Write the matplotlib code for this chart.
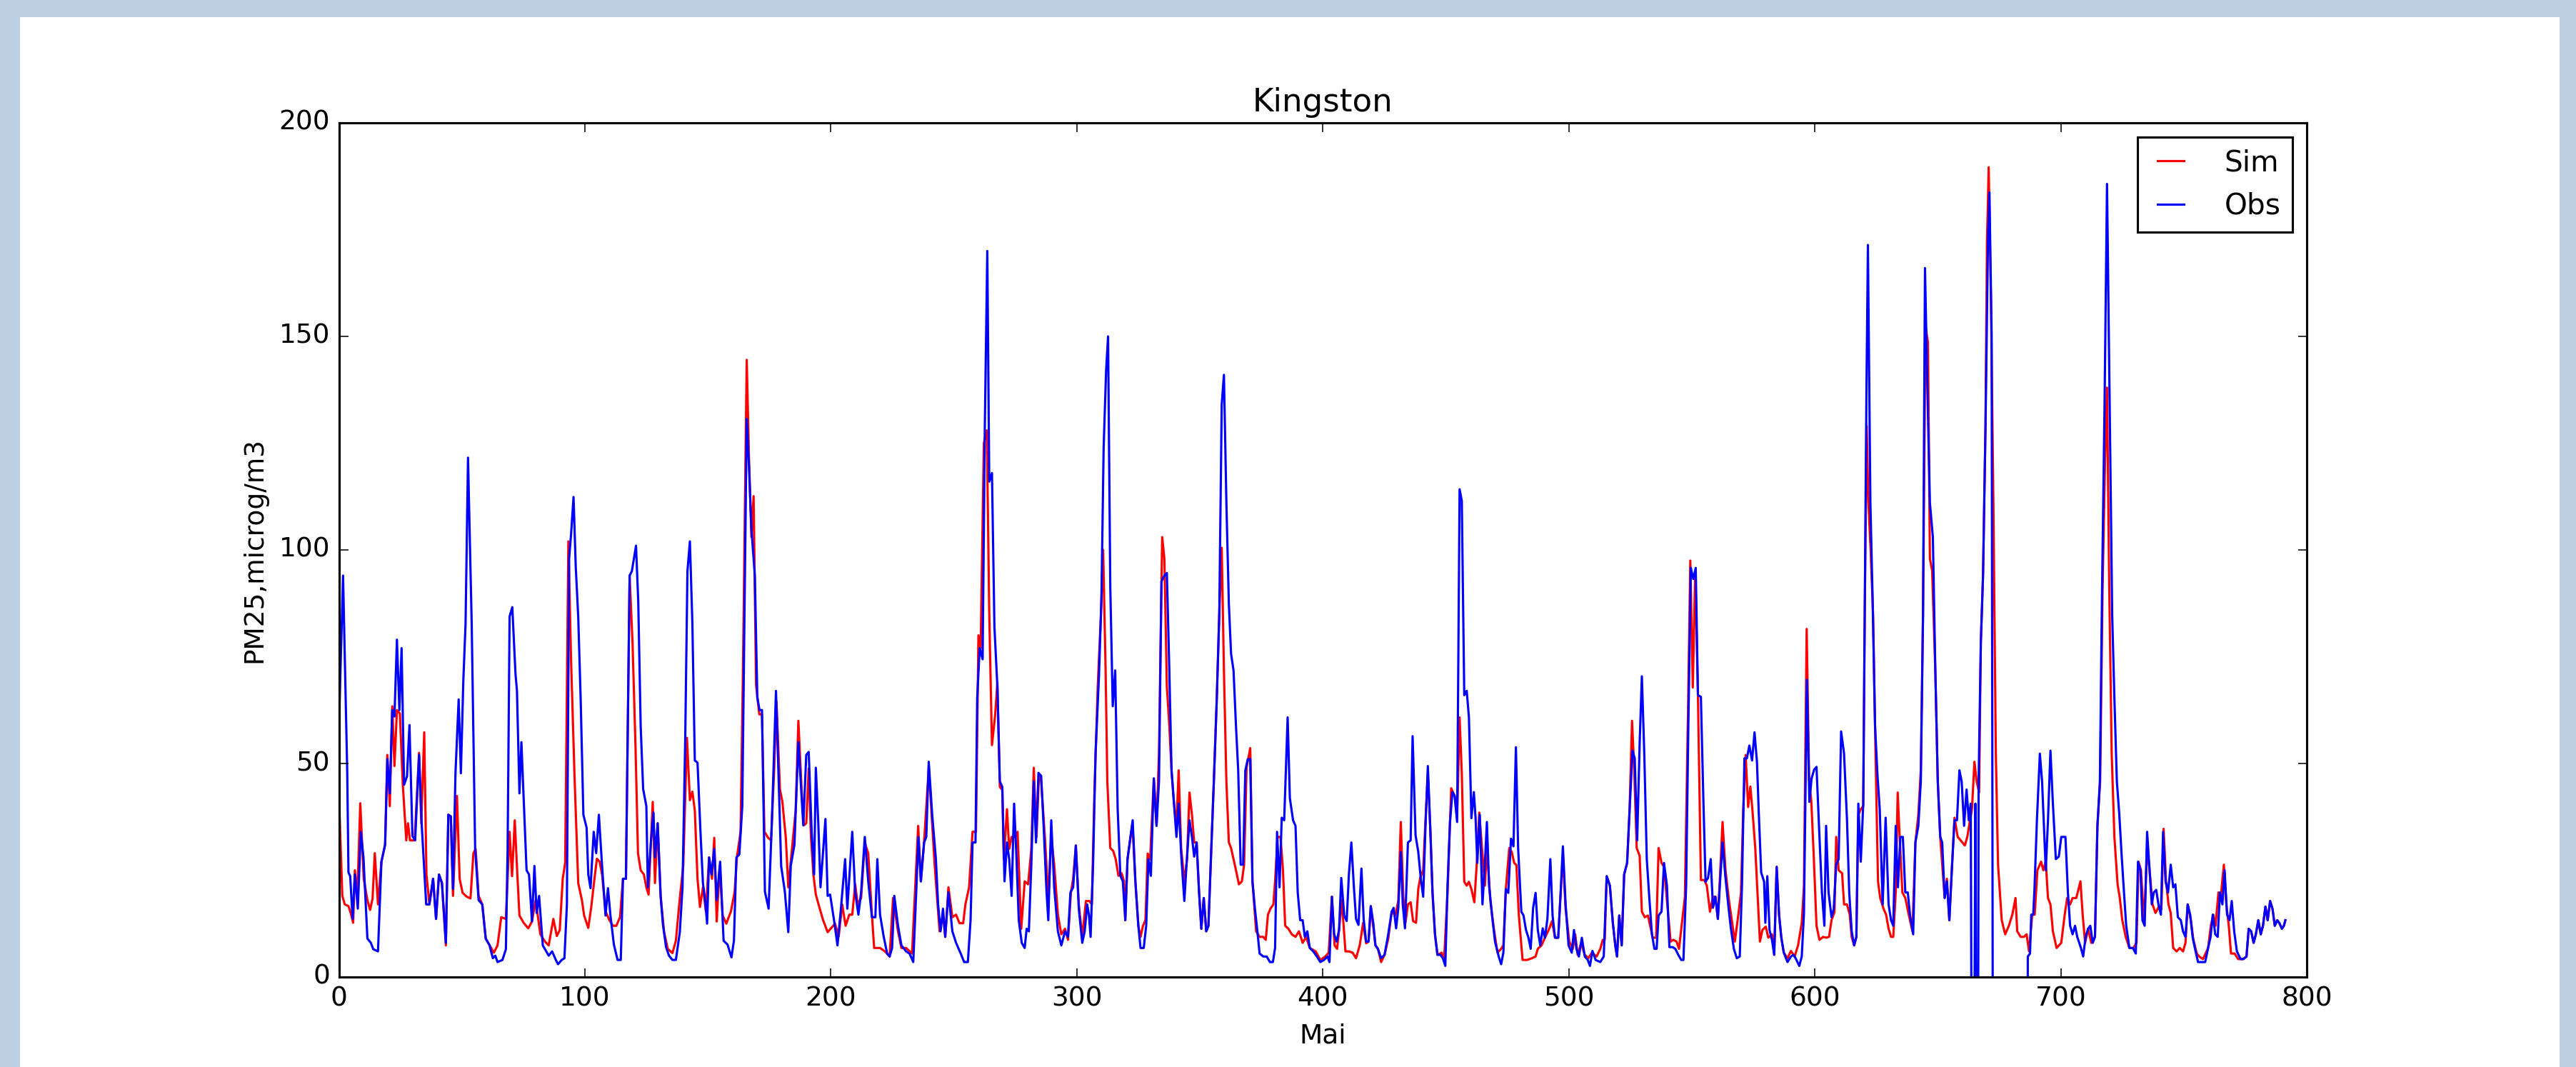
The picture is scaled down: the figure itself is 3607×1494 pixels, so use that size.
import matplotlib
matplotlib.use("Agg")
import matplotlib.pyplot as plt
from matplotlib.patches import Rectangle

# values, (hour index, PM25) ; -99 = missing obs
obs = [
    (0, 58), (1.7, 94), (3.4, 48), (3.9, 24.5), (4.6, 23.6), (5.6, 13.6), (6.5, 24), (7.7, 16), (8.9, 34), (10, 28),
    (11.6, 9), (13, 8), (14, 6.5), (15.9, 6), (17.3, 27), (18.8, 31), (19.7, 51), (20.7, 43), (21.7, 62.5), (22.6, 61),
    (23.6, 79), (24.6, 62.5), (25.5, 77), (26.5, 45), (27.7, 47), (28.7, 59), (29.9, 33), (31, 32), (32.6, 52), (33.7, 35.4),
    (35.5, 17), (36.8, 17), (38.3, 23), (39.5, 13.6), (40.7, 24), (41.9, 22), (43.5, 8), (44.5, 38), (45.5, 37.6), (46.4, 20.6),
    (47.4, 47.7), (48.7, 65), (49.6, 47.7), (50.6, 69.5), (51.5, 82.7), (52.5, 121.6), (54, 82.7), (55.4, 30), (56.8, 18), (58.3, 17),
    (59.7, 9), (61.2, 7.5), (62.6, 4.4), (63.6, 5), (64.5, 3.5), (66.5, 4), (67.9, 6.5), (68.6, 30), (69.4, 84.4), (70.5, 86.6),
    (71.8, 71), (72.4, 67), (73.4, 43), (74.2, 55), (74.9, 45), (76.3, 25), (77.3, 24), (78.5, 13), (79.5, 26), (80.4, 15),
    (81.4, 19), (82.9, 7.4), (84.3, 6), (85.3, 5), (86.7, 6), (88.2, 4), (89.1, 3), (90.6, 4), (91.7, 4.4), (92.7, 17),
    (93.6, 98), (94.4, 103.7), (95.4, 112.4), (96.3, 96), (97.3, 84.4), (98.3, 65), (99.4, 38), (100.7, 35), (101.4, 24), (102.3, 20.8),
    (103.6, 34), (104.6, 29), (105.7, 38), (107, 26), (108.4, 14.4), (109.4, 20.8), (110.4, 14.4), (111.8, 7.6), (113.3, 4), (114.6, 4),
    (115.5, 23), (116.7, 23), (118.2, 94), (119.1, 95), (120.8, 101), (121.7, 88), (122.7, 58.6), (123.7, 44), (125, 40), (125.6, 21),
    (126.9, 32), (127.9, 38.5), (128.5, 28), (129.6, 36), (130.8, 19), (131.7, 12.5), (133, 7), (134.2, 5), (135.6, 4), (137, 4),
    (138.6, 10.5), (139.7, 21), (140.8, 55.6), (141.7, 95), (142.7, 102), (143.7, 83), (144.7, 50.7), (145.8, 50.2), (147, 34), (148, 22),
    (148.9, 18), (149.7, 12.5), (150.5, 28), (151.5, 24), (152.6, 30), (153.6, 18), (155, 27), (156.4, 8.5), (158, 7.6), (159.6, 4.6),
    (160.6, 8.5), (161.6, 28), (162.8, 28.7), (164, 40), (165, 91), (165.8, 130.7), (166.7, 120), (167.7, 105), (169.1, 94), (170.1, 65.5),
    (171, 62.5), (172, 62.5), (173.2, 20), (174.7, 16), (176, 36), (177.7, 67), (178.9, 44), (179.8, 26), (181.3, 20), (182.7, 10.5),
    (183.7, 26), (185.2, 31), (186.8, 55), (188.8, 35.5), (190, 52), (191, 52.7), (192.2, 34), (193.2, 24), (193.9, 49), (194.9, 36),
    (195.8, 21), (197.8, 37), (198.7, 19), (199.7, 19.3), (201.3, 13.3), (202.7, 7.4), (204.1, 16), (205.8, 27.6), (206.7, 16), (208.7, 34),
    (209.9, 19.8), (211.2, 14.6), (212.3, 19.8), (213.8, 32.8), (215.2, 22.4), (216.7, 14), (218.1, 14), (218.9, 27.6), (220, 14.6), (221.5, 9.4),
    (222.9, 5.5), (223.9, 4.8), (224.9, 6.8), (225.8, 19), (227.3, 12), (228.7, 7.4), (230.6, 6), (232, 5.5), (233.5, 3.5), (234.7, 19.8),
    (235.6, 32.8), (236.6, 22.4), (237.9, 31.5), (238.8, 32.8), (239.8, 50.4), (241.2, 38), (242.7, 27.6), (243.6, 17), (244.6, 10.7), (245.6, 16),
    (246.5, 9.4), (247.8, 19.8), (249.4, 10.7), (250.9, 8), (252.8, 5.5), (254.2, 3.5), (255.7, 3.5), (256.8, 13.3), (257.6, 31.5), (258.8, 31.5),
    (259.5, 65.3), (260.5, 77), (261.7, 74.4), (262.6, 129), (263.6, 170), (264.4, 116), (265.5, 118), (266.5, 82), (267.7, 68), (268.7, 45.8),
    (269.7, 44.5), (270.6, 22.4), (271.6, 31.5), (272.5, 27.6), (273.5, 19), (274.5, 40.6), (275.4, 28.9), (276.4, 13.3), (277.6, 8), (278.8, 6.8),
    (279.6, 11.3), (280.5, 10.7), (281.5, 26.3), (282.5, 45.8), (283.4, 31.5), (284.4, 47.8), (285.5, 47.1), (286.5, 35.4), (287.7, 19.8), (288.4, 13.3),
    (289.6, 36.7), (290.8, 21), (292.3, 10.7), (293.7, 7.4), (295.2, 10.7), (296.4, 9.4), (297.4, 19.8), (298.5, 21), (299.6, 30.8), (300.8, 16),
    (302.2, 8), (303.2, 10.7), (304.2, 17), (304.9, 14.6), (305.6, 9.4), (306.6, 26.3), (307.6, 52.3), (309, 70.5), (310, 88.7), (310.9, 124),
    (311.9, 142), (312.7, 150), (313.6, 91.3), (314.6, 63.4), (315.6, 71.8), (316.6, 39.3), (317.7, 23.7), (318.7, 22.4), (319.7, 13.3), (320.6, 27.6),
    (321.8, 32.8), (322.7, 36.7), (323.8, 22.4), (325, 12), (325.9, 6.8), (327.2, 6.8), (328.2, 12), (329.1, 27.6), (330.1, 23.7), (331.3, 46.5),
    (332.4, 35.4), (333.4, 45.8), (334.4, 92.6), (335.6, 94), (336.6, 94.6), (337.6, 71.8), (338.5, 48.4), (339.5, 40.6), (340.5, 32.8), (341.4, 40.6),
    (342.4, 28.9), (343.7, 17.8), (344.6, 26.3), (345.8, 36.7), (346.8, 32.8), (347.7, 28.2), (348.7, 31.5), (349.7, 19.8), (350.6, 11.3), (351.6, 18.5),
    (352.6, 10.7), (353.5, 12), (354.5, 27.6), (355.7, 45.8), (356.9, 65.3), (357.9, 84.8), (358.9, 134), (359.8, 141), (360.8, 111), (361.8, 87.4),
    (362.7, 75.7), (363.7, 71.8), (364.7, 58.8), (365.6, 48.4), (366.6, 26.3), (367.6, 26.3), (368.5, 48.4), (369.5, 51), (370.5, 51), (371.4, 22.4),
    (372.4, 16), (373.4, 10.7), (374.3, 5.5), (375.8, 4.8), (377.2, 4.8), (378.5, 3.5), (379.7, 3.5), (380.6, 6.8), (381.4, 34), (382.4, 21),
    (383.3, 37.3), (384.3, 36.7), (385.7, 60.8), (386.6, 41.9), (387.9, 36.7), (388.9, 35.4), (389.8, 19.8), (390.8, 13.3), (391.8, 13.3), (392.7, 9.4),
    (393.7, 10.7), (394.7, 6.8), (396.1, 6), (397.6, 4.8), (399, 3.5), (400.5, 4), (401.9, 4.8), (402.7, 3.5), (403.7, 18.8), (404.6, 10),
    (405.6, 8.3), (406.6, 11), (407.5, 23.2), (408.7, 14.4), (409.7, 13.1), (410.6, 24), (411.6, 31.5), (412.6, 21.4), (413.5, 13.6), (414.5, 12.2),
    (415.7, 25.4), (416.6, 13.6), (417.6, 8.3), (418.6, 8.3), (419.5, 16.6), (420.5, 12.7), (421.4, 7.4), (422.4, 6.6), (423.7, 4.4), (425.1, 5.2),
    (426.6, 10), (428, 15.3), (428.8, 16.2), (429.8, 11.4), (430.7, 16.2), (431.7, 29.3), (432.5, 17), (433.4, 11.4), (434.6, 31.5), (435.7, 32),
    (436.5, 56.4), (437.7, 33.2), (438.8, 29.3), (439.8, 23.2), (440.8, 18.8), (441.7, 34.6), (442.7, 49.4), (443.7, 34.6), (444.6, 19.7), (445.6, 10),
    (446.6, 5.2), (447.8, 5.2), (448.8, 4.4), (449.8, 2.6), (450.7, 21.4), (451.7, 36.3), (452.7, 43.3), (453.6, 42.4), (454.6, 36.3), (455.6, 114.2),
    (456.5, 111.5), (457.5, 66), (458.5, 67), (459.4, 60.8), (460.4, 37.2), (461.4, 43.3), (462.1, 37.2), (462.8, 26.7), (463.8, 38), (464.9, 17),
    (465.9, 26.7), (466.7, 36.3), (467.6, 21.4), (468.8, 14.4), (470, 8.3), (471.5, 4.8), (472.5, 3), (473.4, 5.7), (474.4, 20.6), (475.4, 19.7),
    (476.5, 32.4), (477.5, 30.6), (478.5, 53.8), (479.4, 30.2), (480.7, 15.3), (481.6, 14.4), (482.6, 11), (483.6, 9.2), (484.5, 6.6), (485.5, 16.2),
    (486.5, 19.7), (487.4, 11), (488.4, 7.4), (489.4, 11.4), (490.3, 9.2), (491.3, 13.6), (492.5, 27.6), (493.4, 14.4), (494.4, 9.2), (495.7, 9.2),
    (496.6, 18.8), (497.6, 30.6), (498.7, 17), (499.9, 7.4), (501.2, 5.7), (502.1, 11), (503.1, 6.6), (504.1, 4.8), (505.3, 9.2), (506.5, 4.8),
    (507.7, 4), (508.6, 2.6), (509.6, 6.1), (510.9, 4), (512.8, 3.5), (514.2, 4.8), (515.4, 23.6), (516.7, 21.4), (517.9, 12.7), (518.9, 7.4),
    (519.6, 4.8), (520.5, 14.4), (521.5, 7.4), (522.5, 24), (523.7, 26.7), (524.7, 38.9), (525.9, 53), (526.8, 51.2), (527.8, 32), (528.8, 54.7),
    (529.7, 70.4), (530.7, 52), (531.7, 27.6), (532.7, 18.8), (533.8, 10), (534.8, 6.6), (535.7, 6.6), (536.5, 14.4), (537.7, 15.3), (538.7, 26.7),
    (539.9, 21.4), (540.9, 7), (542.2, 7), (543.3, 6.6), (544.5, 5.2), (545.7, 4), (546.6, 4), (547.7, 21.4), (548.6, 59), (549.6, 95.8),
    (550.6, 93.2), (551.6, 95.8), (552.5, 66), (553.7, 65.6), (554.7, 41.6), (555.6, 22.3), (556.6, 23.2), (557.7, 27.6), (558.6, 16.2), (559.6, 18.8),
    (560.6, 13.6), (561.5, 22.3), (562.5, 31.5), (563.7, 23.2), (564.8, 17), (565.8, 11.8), (567.1, 6.6), (568.3, 4.4), (569.5, 4.8), (570.4, 21.4),
    (571.4, 51.2), (572.4, 51.2), (573.4, 54.2), (574.5, 50.7), (575.5, 57.3), (576.5, 50.3), (577.2, 38.9), (578.2, 24.5), (579.4, 22.3), (579.9, 12.7),
    (580.7, 23.6), (581.6, 11), (582.6, 8.7), (583.5, 5.2), (584.5, 25.8), (585.5, 14.4), (586.4, 9.2), (587.4, 5.7), (588.9, 3.5), (590.3, 4.8),
    (591.3, 5.2), (592.2, 4.4), (593.7, 2.6), (594.7, 4.8), (595.6, 15), (596.8, 69.6), (597.8, 41), (598.7, 46.5), (599.7, 48.5), (600.7, 49.2),
    (601.9, 32.8), (602.9, 19.8), (603.9, 12), (604.6, 35.4), (605.6, 19.8), (606.8, 14), (607.7, 15.9), (608.7, 26.3), (609.7, 27.6), (610.7, 57.5),
    (611.9, 52.3), (613.1, 36.7), (614, 19.8), (615, 10.7), (616, 7.4), (616.9, 9.4), (617.7, 40.6), (618.7, 27), (619.7, 40.6), (620.3, 84.8),
    (621, 137), (621.6, 171.4), (622.6, 111), (623.5, 88.7), (624.5, 58.8), (625.5, 47.1), (626.4, 39.3), (627.6, 17), (628.8, 37.3), (630, 17),
    (631, 13.3), (631.9, 12), (632.9, 35.4), (633.8, 21), (634.8, 32.8), (635.8, 32.8), (636.8, 19.8), (637.8, 19.8), (638.7, 14.6), (640, 10),
    (640.9, 31.5), (642.1, 35.4), (643.1, 45.8), (644, 84.8), (644.8, 166), (645.8, 137), (646.8, 111), (648, 103), (649, 71.8), (650, 45.8),
    (651, 32.8), (651.8, 31.5), (652.8, 18.5), (653.7, 22.4), (654.7, 13.3), (655.7, 25), (656.8, 36.7), (657.8, 36.7), (658.8, 48.4), (659.7, 45.8),
    (660.7, 35.4), (661.7, 43.9), (662.6, 36.7), (663.4, 40.6), (664.2, -99), (665.3, 40.6), (666.1, -99), (666.6, 45.8), (667.5, 78.3), (668.4, 94),
    (669.4, 129), (670.4, 172), (671, 183.7), (671.9, 150), (672.6, -99), (686.2, -99), (686.6, 4.8), (687.5, 5.5), (688, 14.6), (688.8, 14.6),
    (689.3, 20.4), (690.3, 36.7), (691.5, 52.3), (692.4, 45.8), (693.9, 25), (694.8, 36.7), (695.8, 53), (696.8, 40.6), (698, 27.6), (699.2, 28.2),
    (700.2, 32.8), (701.9, 32.8), (702.9, 19.8), (703.8, 12), (704.8, 10), (705.8, 12), (706.7, 9.4), (708.2, 6.8), (709.1, 4.8), (710.1, 9.4),
    (711.1, 11.3), (712, 12), (713, 8), (713.9, 9.4), (714.9, 35.4), (715.9, 45.8), (716.8, 91.3), (717.8, 134), (718.8, 185.7), (719.7, 142),
    (720.9, 84.8), (721.8, 65.3), (722.8, 45.8), (723.8, 38), (724.7, 28.9), (725.7, 19.8), (726.6, 12), (727.9, 6.8), (729.3, 6.8), (730.5, 5.5),
    (731.4, 27), (732.4, 25), (733.2, 13.3), (734.1, 12), (735.1, 34), (736.1, 25), (737, 17), (737.8, 19.8), (738.8, 20.4), (739.7, 17),
    (740.7, 14.6), (741.6, 34), (742.6, 22.4), (743.6, 19.8), (744.7, 26.3), (745.7, 21), (746.6, 21.7), (747.6, 14), (748.8, 13.3), (749.7, 10.7),
    (750.7, 9.4), (751.6, 17), (752.6, 14.6), (753.6, 9.4), (754.5, 6.8), (755.8, 3.5), (757.2, 3.5), (758.7, 3.5), (759.9, 6.8), (760.9, 9.4),
    (761.8, 14.6), (762.8, 10), (763.8, 9.4), (764.7, 19.8), (765.7, 17), (766.6, 25), (767.6, 14.6), (768.6, 13.3), (769.5, 17.8), (770.5, 10.7),
    (771.6, 6), (773.1, 4.2), (774.3, 4.2), (775.5, 4.8), (776.4, 11.3), (777.4, 10.7), (778.4, 8), (779.3, 10), (780.3, 13.3), (781.3, 10),
    (782.2, 12), (783.2, 16.5), (784.1, 13.3), (785.1, 17.8), (786.1, 15.9), (787, 12), (788, 13.3), (788.9, 12.6), (789.9, 11.3), (790.7, 12),
    (791.3, 13.3),
]

sim = [
    (0, 43), (1.4, 19), (2.4, 17), (3.9, 16.6), (4.8, 15), (5.8, 12.7), (6.5, 25), (7.5, 19), (8.7, 40.7), (10.1, 23),
    (11.6, 18), (12.7, 15.7), (13.7, 18.4), (14.6, 29), (15.9, 17), (17.3, 27), (18.8, 31), (19.7, 52), (20.7, 40), (21.7, 63.4),
    (22.6, 49.4), (23.6, 62.5), (24.8, 61.7), (26, 45), (27.4, 32), (28.1, 36), (28.9, 32), (30.8, 32), (32.6, 52.5), (33.5, 36),
    (34.7, 57.3), (35.6, 24), (36.8, 17), (38.3, 23), (39.5, 13.6), (40.7, 24), (41.9, 22), (43.5, 7.4), (44.5, 38), (45.5, 37.6),
    (46.4, 19), (48, 42.4), (49.1, 23), (50.3, 19.7), (52, 18.8), (53.5, 18.4), (54.7, 29), (55.6, 30), (56.8, 19), (58.3, 17),
    (59.7, 9), (61.7, 7), (63, 5.7), (64.5, 7.4), (66, 14), (67.9, 13.6), (69.4, 34), (70.4, 23.6), (71.5, 36.7), (72.4, 25.8),
    (73.4, 14.4), (75.1, 12.7), (77, 11.4), (78.5, 13), (80, 18), (81.9, 10), (83.8, 8.3), (85.3, 7.4), (87.2, 13.6), (88.6, 9.6),
    (89.8, 11), (91, 23), (92, 26.7), (93.3, 102), (94.4, 74), (95.8, 47), (97.3, 22), (98.8, 18), (99.7, 14.4), (101.4, 11.5),
    (102.6, 16.4), (103.9, 23), (104.9, 27.7), (106, 27), (107, 24), (108.4, 15.4), (109.9, 13.4), (111.4, 12), (112.8, 12), (114.3, 14),
    (115.5, 23), (116.7, 23), (118.2, 94), (119.4, 78), (120.6, 53.7), (121.6, 29), (122.7, 25), (124, 24), (125, 21), (125.9, 19.3),
    (127.6, 41), (128.5, 22), (129.6, 36), (130.8, 19), (132.2, 10.5), (133.7, 6.6), (135.6, 5.6), (137, 8.5), (138.6, 18.4), (140, 26),
    (141.5, 56), (142.7, 41.4), (143.7, 43.4), (144.7, 39), (145.8, 23), (146.8, 16.4), (148, 21), (149.2, 15.4), (150.5, 28), (151.7, 23),
    (152.6, 32.6), (153.6, 13), (154.8, 26), (156, 14.4), (157.5, 12.5), (159.4, 15.4), (160.9, 20), (161.8, 28), (163.3, 34), (164.3, 73),
    (165.8, 144.5), (166.7, 122), (167.7, 103), (168.6, 112.6), (169.6, 68.4), (170.9, 61.5), (172, 61.5), (173, 34), (174.5, 32.6), (175.7, 32),
    (176.9, 47.8), (177.9, 64.5), (179.3, 44), (180.3, 41), (181.7, 32.6), (182.7, 21), (184.2, 30), (185.7, 39), (186.8, 60), (188.1, 44),
    (189, 35.5), (190, 36), (191, 48.8), (191.9, 33), (192.9, 24), (193.9, 19.3), (195.3, 16.4), (196.8, 13.4), (198.7, 10.5), (200.2, 11.5),
    (201.7, 12.5), (203.2, 9.5), (204.6, 17), (206, 12), (207.5, 14.6), (208.7, 14.6), (209.9, 21.7), (210.9, 17), (212.3, 18.5), (213.8, 31.5),
    (215.2, 28.9), (216.7, 14.6), (217.6, 6.8), (220, 6.8), (222, 6), (223.9, 4.8), (225.3, 18.5), (227.3, 10.7), (228.7, 6.8), (230.6, 6.8),
    (233, 5.5), (235.5, 35.4), (236.6, 22.4), (237.9, 31.5), (239.8, 49), (242.2, 26.3), (244.2, 10.7), (245.6, 14.6), (246.5, 9.4), (247.8, 21),
    (249.4, 14), (250.9, 14.6), (252.3, 12.6), (253.8, 12.6), (254.7, 17), (256.2, 21), (257.6, 34), (259, 34), (260, 80), (260.9, 77),
    (262.2, 125), (263.4, 128), (264.4, 85), (265.5, 54.3), (266.8, 61.4), (267.7, 69), (268.7, 44.5), (269.7, 43.8), (270.3, 27.6), (271.6, 39.3),
    (272.5, 30), (273.5, 32.8), (274.9, 32.8), (275.9, 34), (277.4, 11.3), (278.8, 22.4), (280.2, 21.7), (281.5, 30), (282.5, 49), (283.6, 32.8),
    (284.6, 47.1), (285.5, 45.8), (287, 32.8), (288.4, 18.5), (289.6, 32.8), (290.8, 26.3), (292.3, 14.6), (293.7, 10), (295.2, 11.3), (296.4, 8.7),
    (297.6, 19.8), (298.5, 23), (299.6, 30.8), (300.8, 17), (302.2, 9.4), (303.7, 17.8), (305.1, 17.8), (306.1, 17), (307.1, 41.9), (308.5, 68),
    (309.8, 84.8), (310.7, 100), (311.7, 71.8), (312.4, 45.8), (313.6, 30.2), (314.8, 29.5), (315.8, 27.6), (316.9, 23.7), (318.2, 24.3), (319.2, 22.4),
    (319.7, 13.3), (320.6, 27.6), (322.6, 36), (323.8, 22.4), (325, 12), (325.9, 9.4), (326.9, 12), (327.9, 13.3), (328.8, 28.9), (329.8, 27.6),
    (331.3, 46.5), (332.4, 35.4), (333.4, 52.3), (334.7, 103), (335.6, 97.9), (336.6, 68), (337.6, 58.8), (338.5, 48.4), (339.5, 40.6), (340.5, 35.4),
    (341.4, 48.4), (342.4, 30.2), (343.7, 22.4), (344.8, 27.6), (345.8, 43.2), (346.8, 38), (347.7, 31.5), (348.7, 31.5), (349.7, 19.8), (350.6, 11.3),
    (351.6, 18.5), (352.6, 10.7), (353.5, 12), (354.5, 27.6), (355.7, 45.8), (356.9, 65.3), (357.9, 84.8), (358.9, 100.5), (359.8, 71.8), (360.8, 45.8),
    (361.8, 31.5), (362.7, 30.2), (363.7, 27.6), (364.7, 25), (365.9, 21.7), (367.1, 22.4), (368, 26.3), (369, 49), (370.5, 53.6), (371.4, 22.4),
    (372.9, 10.7), (374.3, 9.4), (375.8, 9.4), (376.8, 8.7), (377.7, 14.6), (378.7, 16), (379.9, 17), (380.6, 22.4), (381.6, 32.8), (382.8, 32.8),
    (383.8, 25), (384.7, 12), (386, 11.3), (387.4, 10), (388.9, 9.4), (390.3, 10.7), (391.8, 8), (393.2, 9.4), (394.7, 6.8), (397.1, 6),
    (399, 4), (401, 4.8), (402.4, 5.7), (403.7, 18.8), (404.8, 7.4), (405.8, 6.6), (406.6, 11), (407.7, 18), (409.2, 6), (410.6, 6),
    (412.1, 5.7), (413.5, 4.4), (415, 7.4), (416.4, 12.7), (417.6, 7.9), (418.6, 8.3), (419.5, 16.6), (421.4, 7.4), (422.4, 6.6), (423.7, 3.5),
    (425.1, 5.2), (426.6, 9), (428, 15.3), (429.5, 14.4), (430.7, 17.9), (431.7, 36.3), (432.7, 18.8), (433.6, 12.7), (434.6, 17), (435.7, 17.5),
    (436.7, 13.1), (437.9, 12.7), (438.8, 20.6), (439.6, 23.2), (440.8, 25), (441.7, 36.3), (442.7, 47.7), (443.7, 34.6), (444.6, 19.7), (445.6, 10),
    (446.6, 5.2), (448.3, 5.7), (449.3, 4), (450.7, 19.7), (452.2, 44.2), (453.6, 42.4), (454.6, 37.2), (455.6, 60.8), (456.5, 47.7), (457.5, 22.3),
    (458.5, 21.4), (459.4, 22.3), (460.4, 20.6), (461.6, 17.5), (462.6, 26.7), (463.6, 38.5), (464.7, 30.2), (465.9, 21.4), (466.7, 30.2), (468.1, 17.9),
    (469.6, 11), (471, 5.7), (472.5, 6.6), (473.4, 7.4), (474.4, 20.6), (475.8, 30.2), (476.8, 29.3), (477.8, 26.7), (478.7, 26.2), (479.7, 14.4),
    (481.2, 4), (483.1, 4), (485, 4.4), (486.5, 4.8), (487.4, 6.6), (488.9, 7.4), (490.3, 9.2), (491.8, 11), (493.2, 13.1), (494.4, 9.2),
    (495.7, 9.2), (496.6, 18.8), (497.6, 28.4), (498.7, 16), (500.2, 8.3), (501.6, 6.6), (502.6, 10), (503.6, 5.2), (505, 7.9), (506.5, 5.2),
    (507.9, 4.4), (509.4, 5.7), (511.3, 4.8), (512.8, 6.6), (513.8, 8.7), (514.6, 8.7), (515.4, 23.6), (516.7, 21.4), (517.9, 12.7), (518.9, 7.4),
    (519.6, 4.8), (520.5, 14.4), (521.5, 7.4), (522.5, 24), (523.7, 26.7), (524.7, 38.9), (525.7, 60), (526.6, 48.6), (527.6, 30.2), (528.8, 28.4),
    (529.7, 15.3), (530.9, 14), (532.2, 14.4), (534.1, 9.2), (535.5, 9.2), (536.5, 30.2), (537.7, 26.7), (538.7, 25.8), (539.9, 17.9), (541.4, 8.3),
    (542.5, 8.7), (543.8, 8.3), (544.8, 6.6), (546, 12.7), (547.2, 18.8), (548.4, 60), (549.4, 97.5), (550.4, 67.8), (551.4, 95), (552.5, 66),
    (553.7, 22.7), (555.1, 22.7), (556.1, 21.4), (557.4, 15.3), (558.6, 18.8), (559.6, 18.8), (560.6, 13.6), (561.5, 24), (562.5, 36.3), (563.7, 25),
    (565.1, 18), (566.4, 12.7), (567.5, 8.3), (568.7, 13.6), (570, 19.7), (570.9, 38.9), (571.9, 52), (572.9, 39.8), (573.8, 44.6), (574.8, 38),
    (575.8, 30.2), (576.7, 19.7), (577.7, 8.3), (578.7, 11), (580.1, 11.8), (581.1, 9.2), (582.6, 10), (583.5, 5.2), (584.5, 25.8), (585.5, 14.4),
    (586.4, 9.2), (587.4, 5.7), (588.9, 4.4), (590.3, 6.1), (591.8, 4.8), (593.2, 7.4), (594.7, 12.7), (595.6, 21.4), (596.7, 81.5), (597.7, 46),
    (598.6, 41), (599.6, 28), (600.7, 12), (601.9, 8.7), (603.4, 9.4), (604.6, 9.2), (605.8, 9.4), (606.8, 13.3), (608, 15.2), (608.7, 32.8),
    (609.7, 25), (611.1, 24.3), (611.9, 17), (613.1, 17), (614.2, 14.6), (615, 9.4), (616, 7.4), (616.9, 9.4), (617.7, 38), (618.7, 39.3),
    (619.7, 40), (620.3, 84.8), (621.1, 129), (621.8, 111), (622.7, 100), (623.7, 84.8), (624.7, 52.3), (625.7, 22.4), (626.6, 18.5), (628, 15.9),
    (629, 14.6), (630, 11.3), (631, 9.4), (631.9, 9.4), (632.9, 19.8), (633.7, 43.2), (634.4, 34), (635.6, 19.8), (636.8, 18.5), (638.2, 14.6),
    (639.7, 10.7), (640.9, 31.5), (642.1, 38), (643.1, 48.4), (644, 84.8), (645, 152.5), (646, 148.6), (646.8, 97.9), (647.7, 95.2), (649, 71.8),
    (650, 45.8), (651, 32.8), (652.8, 18.5), (653.7, 23), (654.7, 13.3), (655.7, 25), (656.8, 37.3), (658.1, 32.8), (659, 32.2), (660, 31.5),
    (661, 30.8), (662, 32.8), (662.9, 36), (663.9, 39.3), (664.9, 50.4), (665.8, 45.8), (666.8, 43.2), (667.5, 78.3), (668.4, 94), (669.4, 129),
    (670, 172), (670.7, 189.6), (671.6, 159), (672.6, 111), (673.6, 52.3), (674.5, 26.3), (676, 13.3), (677.4, 10), (678.9, 12), (680.3, 14.6),
    (681.6, 18.5), (682.3, 10.7), (683.7, 9.4), (685, 9.4), (686.1, 10), (687.1, 6), (688.4, 14.6), (689.4, 14.6), (690.5, 25), (692, 27),
    (692.9, 25), (693.9, 27), (694.8, 18.5), (695.8, 17), (696.8, 10.7), (698.3, 6.8), (700.2, 8), (701.6, 14.6), (702.6, 18.5), (703.8, 17),
    (704.8, 18.5), (706.3, 18.5), (708, 22.4), (708.9, 14.6), (709.9, 8), (711.1, 11.3), (712.4, 8), (713.9, 9.4), (714.9, 35.4), (716, 45.8),
    (717, 91.3), (718, 121), (718.8, 138), (719.7, 91.3), (720.7, 52.3), (721.8, 32.8), (723.1, 21.7), (724, 18.5), (725, 13.3), (726.4, 9.4),
    (727.9, 6.8), (729.5, 6.8), (730.8, 8), (731.6, 27), (732.6, 25), (733.9, 12.6), (735.1, 30.2), (736.1, 25), (737.3, 17), (738.5, 15),
    (739.9, 16.5), (740.9, 15.9), (741.8, 34.7), (742.8, 22.4), (743.8, 17), (744.7, 15), (745.7, 6.8), (747.1, 6), (748.4, 6.8), (749.7, 6),
    (750.7, 8), (751.6, 17), (752.9, 13.3), (753.9, 8.7), (755.3, 5.5), (756.3, 4.8), (757.8, 4.2), (759.9, 6.8), (761, 12), (762, 14.6),
    (762.9, 12), (764.1, 19.8), (765, 18.5), (766.3, 26.3), (767.3, 17), (768.3, 12), (769.2, 5.5), (770.7, 5.5), (772.1, 4.2), (774, 4.2),
    (775.5, 4.8), (776.4, 11.3), (777.4, 10.7), (778.4, 8), (779.3, 10), (780.3, 13.3), (781.3, 10), (782.2, 12), (783.2, 16.5), (784.1, 13.3),
    (785.1, 17.8), (786.1, 15.9), (787, 12), (788, 13.3), (788.9, 12.6), (789.9, 11.3), (790.7, 12), (791.3, 13.3),
]

xticks = [0, 100, 200, 300, 400, 500, 600, 700, 800]
yticks = [0, 50, 100, 150, 200]

plt.style.use("classic")

fig = plt.figure(figsize=(3607 / 225, 1494 / 225), dpi=225, facecolor="#bdcfe2")
# white slide area inside the blue border, kept behind the axes
fig.patches.append(Rectangle((28 / 3607, 0), 3556 / 3607, 1 - 24 / 1494,
                             transform=fig.transFigure, facecolor="white",
                             edgecolor="none", zorder=-10))

ax = fig.add_axes([474.5 / 3607, 1 - 1368 / 1494, 2755.5 / 3607, 1196 / 1494])
ax.set_zorder(1)

sx, sy = zip(*sim)
ox, oy = zip(*obs)
ax.plot(sx, sy, color="r", label="Sim")
ax.plot(ox, oy, color="b", label="Obs")

ax.set_xlim(0, 800)
ax.set_ylim(0, 200)
ax.set_xticks(xticks)
ax.set_yticks(yticks)
ax.set_title("Kingston")
ax.set_xlabel("Mai")
ax.set_ylabel("PM25,microg/m3")
ax.legend(loc="upper right", fontsize=13, handlelength=1.5, handletextpad=1.1)

fig.savefig("out.png", dpi=225, facecolor=fig.get_facecolor())
